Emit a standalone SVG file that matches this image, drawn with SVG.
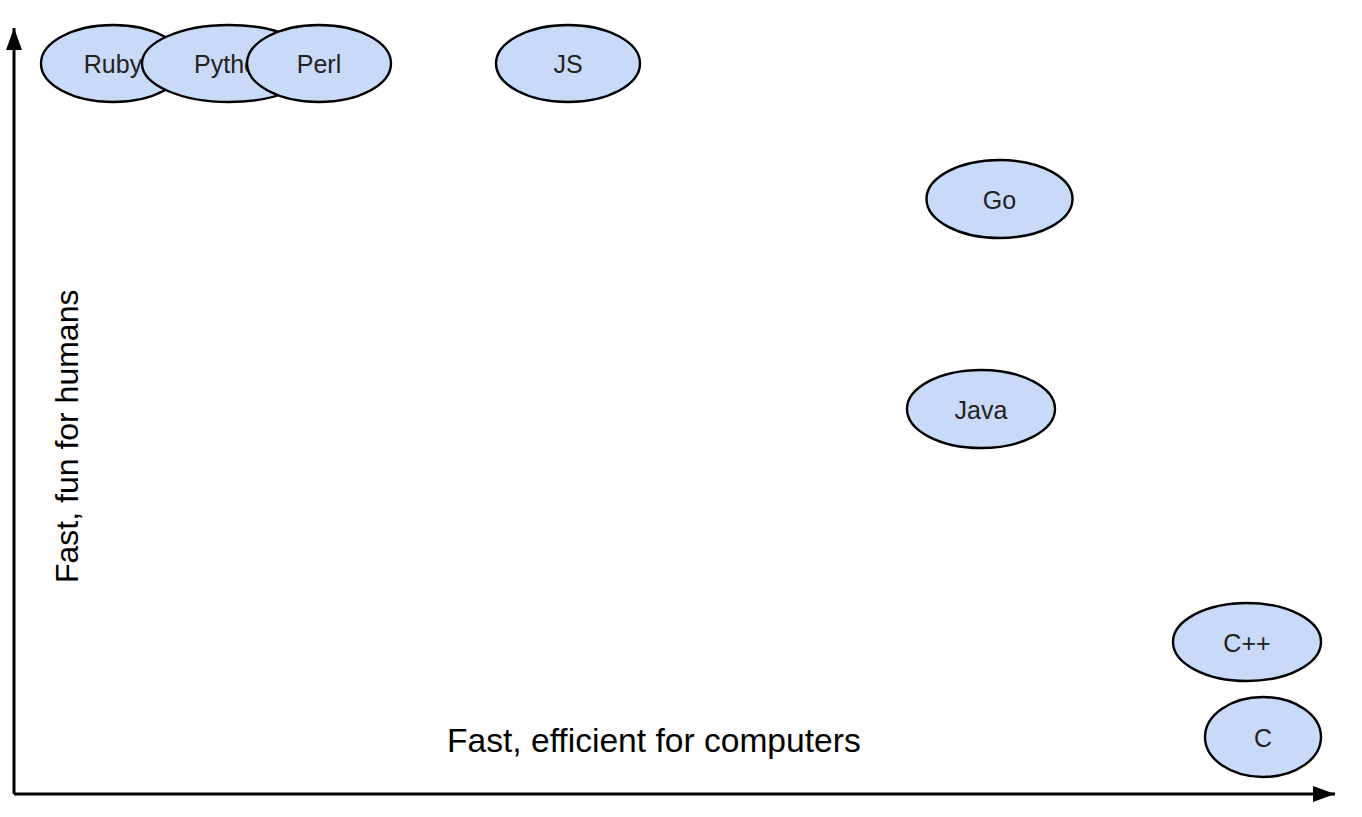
<svg xmlns="http://www.w3.org/2000/svg" width="1362" height="817" viewBox="0 0 1362 817">
<style>
.node ellipse{fill:#c9daf8;stroke:#000;stroke-width:2.4}
.node text{font-family:"Liberation Sans",Arial,sans-serif;font-size:25px;fill:#222;text-anchor:middle;dominant-baseline:central}
.axis{stroke:#000;stroke-width:3;fill:none}
.label{font-family:"Liberation Sans",Arial,sans-serif;fill:#000}
</style>
<defs>
<marker id="arr" markerUnits="userSpaceOnUse" markerWidth="24" markerHeight="18" refX="22" refY="8" orient="auto">
<path d="M0,0 L22,8 L0,16 Z" fill="#000"/>
</marker>
</defs>
<rect width="1362" height="817" fill="#fff"/>
<g id="connectors">
<path class="axis" d="M14,794 L14,28" marker-end="url(#arr)"/>
<path class="axis" d="M14,794 L1335,794" marker-end="url(#arr)"/>
</g>
<text class="label" x="447" y="752" font-size="33.6">Fast, efficient for computers</text>
<text class="label" font-size="32" transform="translate(78,583) rotate(-90)">Fast, fun for humans</text>
<g id="ruby" class="node"><ellipse cx="113" cy="63.5" rx="72" ry="38.5"/><text x="113" y="64">Ruby</text></g>
<g id="python" class="node"><ellipse cx="229" cy="63.5" rx="87" ry="38.5"/><text x="233" y="64">Python</text></g>
<g id="perl" class="node"><ellipse cx="319" cy="63.5" rx="72" ry="38.5"/><text x="319" y="64">Perl</text></g>
<g id="js" class="node"><ellipse cx="568" cy="63.5" rx="72" ry="38.5"/><text x="568" y="64">JS</text></g>
<g id="go" class="node"><ellipse cx="999.5" cy="199" rx="73" ry="39"/><text x="999.5" y="200">Go</text></g>
<g id="java" class="node"><ellipse cx="981" cy="409" rx="74" ry="39"/><text x="981" y="410">Java</text></g>
<g id="cpp" class="node"><ellipse cx="1247" cy="642" rx="74" ry="39"/><text x="1247" y="643">C++</text></g>
<g id="c" class="node"><ellipse cx="1263" cy="737" rx="58" ry="40"/><text x="1263" y="738">C</text></g>
</svg>
